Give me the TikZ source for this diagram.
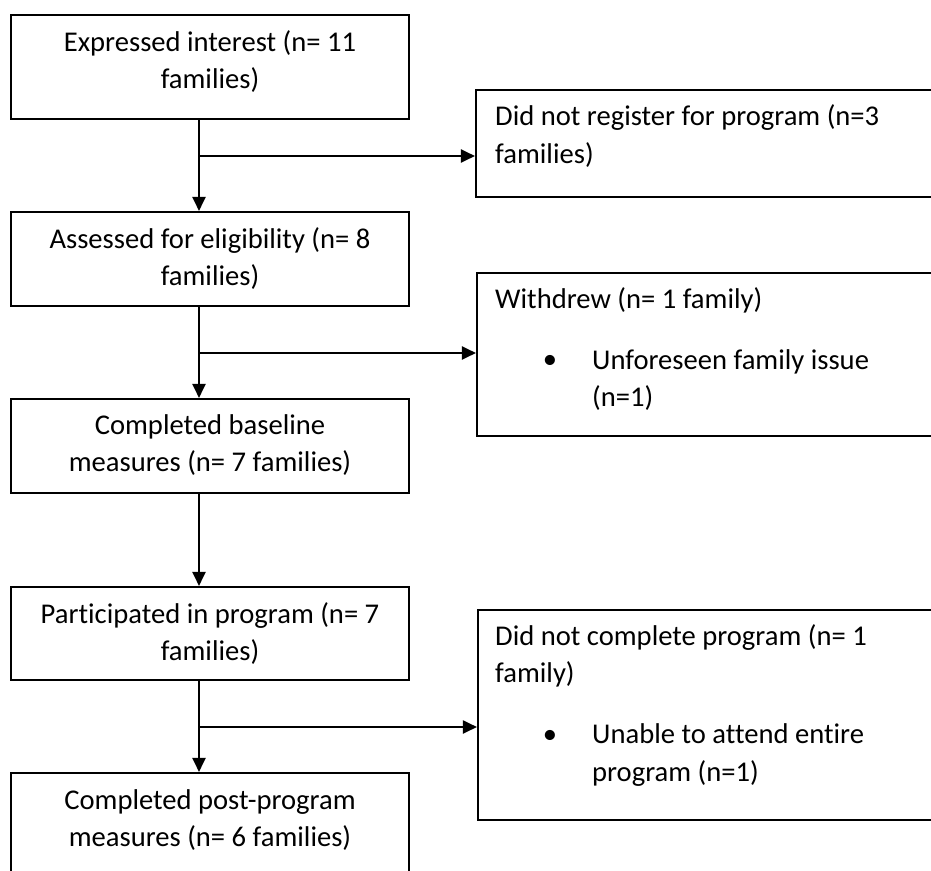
\documentclass[tikz,border=0pt]{standalone}
\usepackage{fontspec}
\setmainfont{Carlito}[Ligatures=NoCommon]
\usetikzlibrary{arrows.meta}
\begin{document}
\begin{tikzpicture}[x=1pt,y=-1pt,
  box/.style={draw=black, line width=2.1pt, rectangle, inner sep=0pt},
  txt/.style={inner sep=0pt, font=\fontsize{28.6}{37.5}\selectfont},
  ctext/.style={txt, align=center},
  ltext/.style={txt, align=left, anchor=west},
  arr/.style={line width=2pt, -{Triangle[length=14pt,width=13pt]}}]
\useasboundingbox (0,0) rectangle (931,870);
\clip (0,0) rectangle (931,870);
% left column boxes
\node[box, minimum width=398pt, minimum height=104pt] (b1) at (210,67) {};
\node[box, minimum width=398pt, minimum height=94pt] (b2) at (210,259) {};
\node[box, minimum width=398pt, minimum height=94pt] (b3) at (210,446) {};
\node[box, minimum width=398pt, minimum height=93pt] (b4) at (210,633.5) {};
\node[box, minimum width=398pt, minimum height=107pt] (b5) at (210,826.5) {};
% right column boxes
\node[box, minimum width=469pt, minimum height=107pt] (r1) at (710.5,143.5) {};
\node[box, minimum width=468pt, minimum height=163pt] (r2) at (711,354.5) {};
\node[box, minimum width=467pt, minimum height=210pt] (r3) at (711.5,715) {};
% texts
\node[ctext] (t1) at (210,61.5) {Expressed interest (n= 11\\families)};
\node[ctext] (t2) at (210,258.5) {Assessed for eligibility (n= 8\\families)};
\node[ctext] (t3) at (210,445) {Completed baseline\\measures (n= 7 families)};
\node[ctext] (t4) at (210,633.5) {Participated in program (n= 7\\families)};
\node[ctext] (t5) at (210,820) {Completed post-program\\measures (n= 6 families)};
\node[ltext] (s1) at (495,136) {Did not register for program (n=3\\families)};
\node[ltext] (s2) at (495,300) {Withdrew (n= 1 family)};
\node[txt] (s2b) at (550,362) {•};
\node[ltext] (s2t) at (592,380) {Unforeseen family issue\\(n=1)};
\node[ltext] (s3) at (495,656) {Did not complete program (n= 1\\family)};
\node[txt] (s3b) at (550,737) {•};
\node[ltext] (s3t) at (592,755) {Unable to attend entire\\program (n=1)};
% junctions
\coordinate (j1) at (199,156);
\coordinate (j2) at (199,353);
\coordinate (j3) at (199,727);
% connectors
\draw[arr] (b1.south -| j1) -- (b2.north -| j1);
\draw[arr] (j1) -- (r1.west |- j1);
\draw[arr] (b2.south -| j2) -- (b3.north -| j2);
\draw[arr] (j2) -- (r2.west |- j2);
\draw[arr] (b3.south -| j2) -- (b4.north -| j2);
\draw[arr] (b4.south -| j3) -- (b5.north -| j3);
\draw[arr] (j3) -- (r3.west |- j3);
\end{tikzpicture}
\end{document}
